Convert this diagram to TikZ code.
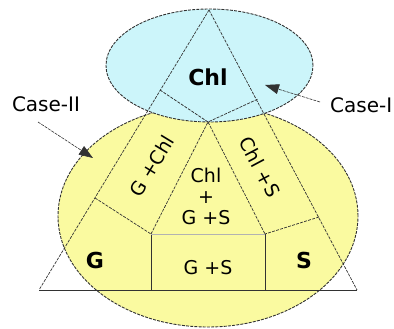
\documentclass[tikz,border=0pt]{standalone}
\usepackage{fontspec}
\setmainfont{DejaVu Sans}
\usetikzlibrary{arrows.meta}
\definecolor{bluefill}{RGB}{204,245,250}
\definecolor{yelfill}{RGB}{250,250,160}
\definecolor{edge}{RGB}{50,50,50}
\tikzset{
  bord/.style={draw=edge, line width=0.9pt, dash pattern=on 3pt off 1.2pt},
  inner/.style={draw=edge, line width=0.7pt, dash pattern=on 3pt off 1.2pt},
  solidline/.style={draw=edge, line width=1pt},
  lbl/.style={font=\fontsize{19}{23}\selectfont, inner sep=0pt},
  big/.style={font=\fontsize{22}{26}\selectfont\bfseries, inner sep=0pt},
  caselbl/.style={font=\fontsize{20}{24}\selectfont, inner sep=0pt},
  pointer/.style={draw=edge, line width=0.6pt, dash pattern=on 3pt off 1pt, -{Triangle[length=14pt,width=10pt]}}
}
\begin{document}
\begin{tikzpicture}[x=1pt,y=-1pt]
\useasboundingbox (0,0) rectangle (394,329);
% ellipses
\path[bord, fill=yelfill] (208,216) ellipse [x radius=150pt, y radius=111pt];
\path[bord, fill=bluefill] (209.5,65.5) ellipse [x radius=103.5pt, y radius=56.5pt];
% triangle corners
\coordinate (Top) at (209,10);
\coordinate (BL) at (39,290);
\coordinate (BR) at (357,290);
\coordinate (C) at (208,122);
\coordinate (L1) at (160,90);
\coordinate (R1) at (258,99);
\coordinate (L2) at (95,198);
\coordinate (R2) at (319,217);
\coordinate (BoxL) at (151,234);
\coordinate (BoxR) at (265,234);
\coordinate (BoxLb) at (151,290);
\coordinate (BoxRb) at (265,290);
% triangle edges
\path[inner] (Top) -- (BL);
\path[inner] (Top) -- (BR);
\path[solidline] (BL) -- (BR);
% internal boundaries
\path[inner] (L1) -- (C) -- (R1);
\path[inner] (BoxL) -- (C) -- (BoxR);
\path[inner] (L2) -- (BoxL);
\path[inner] (R2) -- (BoxR);
\path[solidline] (BoxL) -- (BoxLb);
\path[solidline] (BoxR) -- (BoxRb);
\draw[line width=1pt, color=gray!60] (BoxL) -- (BoxR);
% labels
\node[big] (chl) at (208,77) {Chl};
\node[big] (g) at (95,260) {G};
\node[big] (s) at (304,260) {S};
\node[lbl] (gs) at (208,268) {G +S};
\node[lbl, rotate=58.7] (gchl) at (152,166) {G +Chl};
\node[lbl, rotate=-62] (chls) at (260,167) {Chl +S};
\node[lbl, align=center] (mid) at (206,196) {Chl\\[-2pt]+\\[-2pt]G +S};
\node[caselbl] (c2) at (46,104) {Case-II};
\node[caselbl, anchor=west] (c1) at (330,105) {Case-I};
\coordinate (c2s) at (38,122);
\coordinate (c2e) at (93,158);
\coordinate (c1s) at (320,102);
\coordinate (c1e) at (265,85);
\path[pointer] (c2s) -- (c2e);
\path[pointer] (c1s) -- (c1e);
\end{tikzpicture}
\end{document}
